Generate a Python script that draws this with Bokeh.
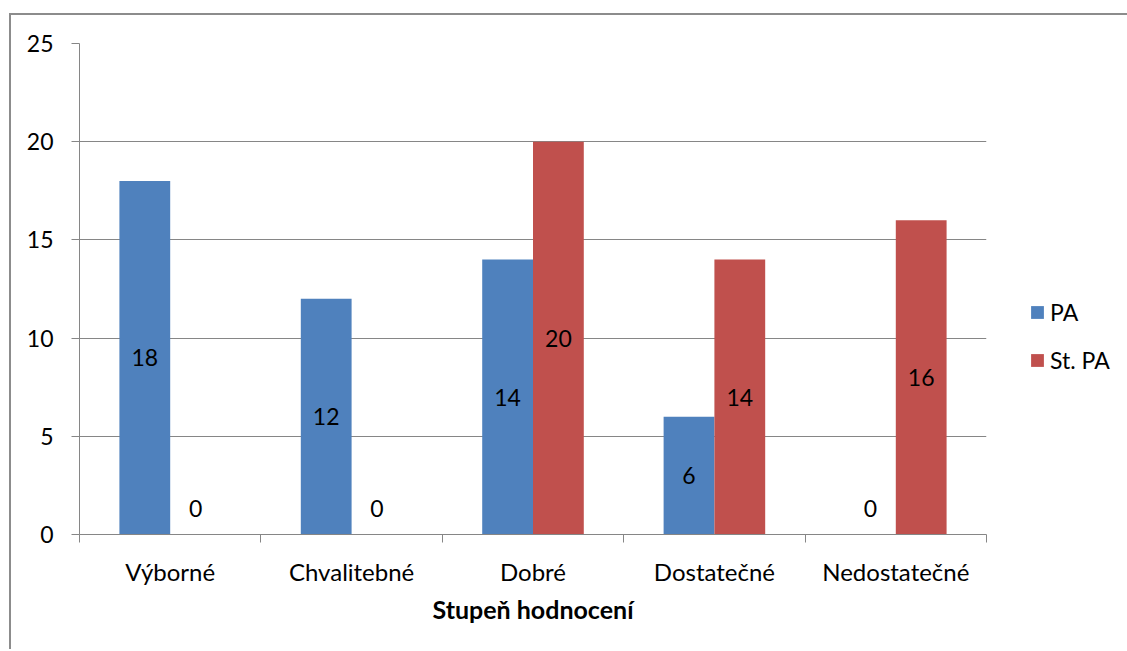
import numpy as np
from bokeh.plotting import figure
from bokeh.models import ColumnDataSource, FixedTicker, LinearAxis, Legend, LegendItem, Range1d, Grid
from bokeh.core.properties import value
from bokeh.embed import file_html
from bokeh.resources import INLINE

categories = ["Výborné", "Chvalitebné", "Dobré", "Dostatečné", "Nedostatečné"]
pa = [18, 12, 14, 6, 0]
st_pa = [0, 0, 20, 14, 16]
series_names = ["PA", "St. PA"]
colors = ["#4F81BD", "#C0504D"]
y_ticks = [0, 5, 10, 15, 20, 25]
x_title = "Stupeň hodnocení"

FONT = "Lato"
FS = "23px"
FS_X = "24px"
BAR_W = 0.28

p = figure(frame_width=907, frame_height=491, output_backend="svg", toolbar_location=None,
           x_range=Range1d(0, len(categories)), y_range=Range1d(0, 25),
           min_border_left=68, min_border_top=28, min_border_right=141, min_border_bottom=117,
           margin=(15, 0, 0, 11), x_axis_type=None, y_axis_type=None)
p.styles = {"box-shadow": "-2px -2px 0 0 #8c8c8c"}
p.outline_line_color = None
p.background_fill_color = "white"
p.border_fill_color = "white"

centers = np.arange(len(categories)) + 0.5
renderers = []
for k, (vals, col) in enumerate(zip([pa, st_pa], colors)):
    off = (k - 0.5) * BAR_W
    src = ColumnDataSource(dict(
        x=centers + off, top=vals,
        ly=[v / 2 if v > 0 else 0 for v in vals],
        lo=[0 if v > 0 else -26 for v in vals],
        txt=[str(v) for v in vals]))
    r = p.vbar(x="x", top="top", width=BAR_W, source=src, fill_color=col, line_color=None)
    renderers.append(r)
    p.text(x="x", y="ly", text="txt", y_offset="lo", source=src, text_align="center",
           text_baseline="middle", text_font=value(FONT), text_font_size=FS, text_color="black")

# y axis
yax = LinearAxis(ticker=FixedTicker(ticks=y_ticks, minor_ticks=[]))
yax.axis_line_color = "#868686"
yax.major_tick_line_color = "#868686"
yax.major_tick_out = 8
yax.major_tick_in = 0
yax.major_label_standoff = 18
yax.major_label_text_font = FONT
yax.major_label_text_font_size = FS
yax.major_label_text_color = "black"
p.add_layout(yax, "left")

# x axis
xax = LinearAxis(ticker=FixedTicker(ticks=list(centers), minor_ticks=list(range(len(categories) + 1))))
xax.major_label_overrides = {float(c): name for c, name in zip(centers, categories)}
xax.axis_line_color = "#868686"
xax.major_tick_line_color = None
xax.major_tick_out = 0
xax.major_tick_in = 0
xax.minor_tick_line_color = "#868686"
xax.minor_tick_out = 8
xax.minor_tick_in = 0
xax.major_label_standoff = 14
xax.major_label_text_font = FONT
xax.major_label_text_font_size = FS_X
xax.major_label_text_color = "black"
xax.axis_label = x_title
xax.axis_label_text_font = FONT
xax.axis_label_text_font_size = "25px"
xax.axis_label_text_font_style = "bold"
xax.axis_label_text_color = "black"
xax.axis_label_standoff = 5
p.add_layout(xax, "below")

p.grid.grid_line_color = None
g = Grid(dimension=1, ticker=FixedTicker(ticks=y_ticks), grid_line_color="#868686", grid_line_width=1)
p.add_layout(g)

legend = Legend(items=[LegendItem(label=n, renderers=[r]) for n, r in zip(series_names, renderers)],
                location=(43, 160), padding=0, margin=0, border_line_color=None,
                background_fill_alpha=0, spacing=20, label_height=24, glyph_height=16, glyph_width=16,
                label_standoff=5, label_text_font=FONT, label_text_font_size=FS,
                label_text_color="black")
p.add_layout(legend, "right")

open("out.html", "w").write(file_html(p, INLINE))
